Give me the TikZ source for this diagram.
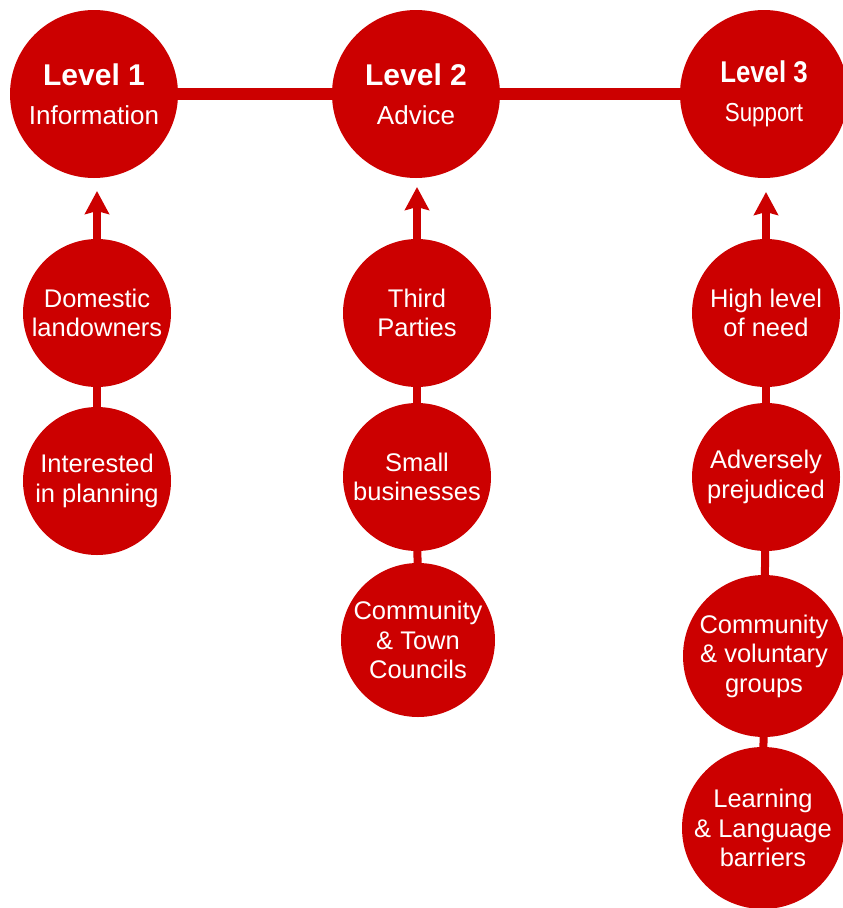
\documentclass[tikz,border=0pt]{standalone}
\usepackage{fontspec}
\setmainfont{Liberation Sans}
\newfontfamily\narrowfont[FakeStretch=0.86]{Liberation Sans}
\usepackage{tikz}
\usetikzlibrary{arrows.meta}

\definecolor{levelred}{RGB}{204,0,0}
\tikzset{
	level/.style={circle, fill=levelred, text=white, minimum size=168pt, inner sep=0pt, align=center, font=\fontsize{26}{39}\selectfont},
	group/.style={circle, fill=levelred, text=white, minimum size=148pt, inner sep=0pt, align=center, font=\fontsize{25.5}{29.5}\selectfont},
	bar/.style={draw=levelred, line width=12pt},
	link/.style={draw=levelred, line width=8pt},
	up/.style={draw=levelred, line width=8pt, -{Stealth[length=23pt, width=24pt, inset=3pt]}},
}
\newcommand{\lvltitle}[1]{{\fontsize{30}{39}\selectfont\bfseries #1}}

\begin{document}
\begin{tikzpicture}[x=1pt, y=-1pt]
				\useasboundingbox (0,0) rectangle (843,908);
				\begin{scope}
					% the three levels
					\node[level] (lvl1) at (94,94) {\lvltitle{Level 1}\\Information};
					\node[level] (lvl2) at (416,94) {\lvltitle{Level 2}\\Advice};
					\node[level, font=\narrowfont\fontsize{26}{39}\selectfont] (lvl3) at (764,94) {\lvltitle{Level 3}\\Support};

					\draw[bar] (lvl1) -- (lvl2); % da 1 a 2
					\draw[bar] (lvl2) -- (lvl3); % da 2 a 3

					% level 1
					\node[group] (dom) at (97,313) {Domestic\\landowners};
					\node[group] (int) at (97,481) {Interested\\in planning};
					\coordinate (tip1) at (97,191);

					% level 2
					\node[group] (third) at (417,313) {Third\\Parties};
					\node[group] (small) at (417,477) {Small\\businesses};
					\node[group, minimum size=154pt] (town) at (418,640) {Community\\\& Town\\Councils};
					\coordinate (tip2) at (417,187);

					% level 3
					\node[group] (high) at (766,313) {High level\\of need};
					\node[group] (adv) at (766,477) {Adversely\\prejudiced};
					\node[group, minimum size=162pt] (vol) at (764,656) {Community\\\& voluntary\\groups};
					\node[group, minimum size=162pt] (learn) at (763,828) {Learning\\\& Language\\barriers};
					\coordinate (tip3) at (766,192);

					\draw[up] (dom) -- (tip1);
					\draw[link] (dom) -- (int);

					\draw[up] (third) -- (tip2);
					\draw[link] (third) -- (small);
					\draw[link] (small) -- (town);

					\draw[up] (high) -- (tip3);
					\draw[link] (high) -- (adv);
					\draw[link] (adv) -- (vol);
					\draw[link] (vol) -- (learn);
				\end{scope}
			\end{tikzpicture}
\end{document}
